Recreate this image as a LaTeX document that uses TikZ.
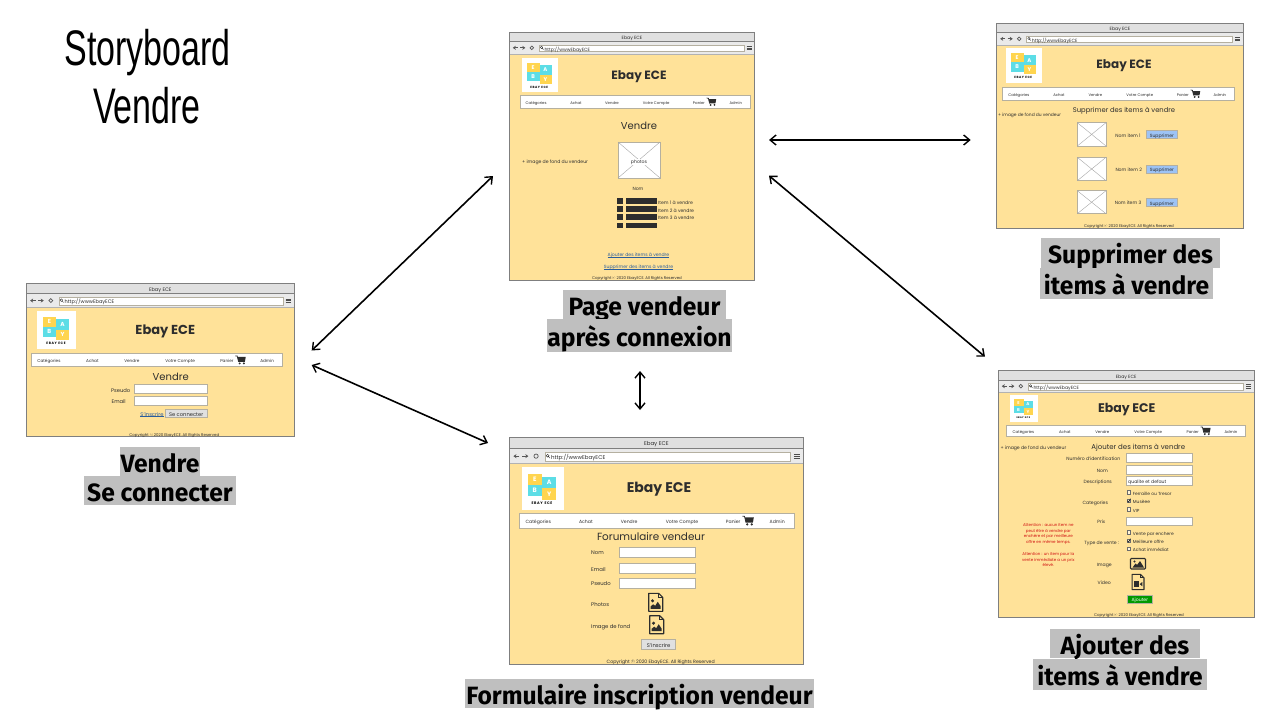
\documentclass[tikz,border=0pt]{standalone}
\usepackage{fontspec}
\usetikzlibrary{arrows.meta}
\setmainfont{Poppins}
\newfontfamily\capfont[FakeStretch=0.985]{Fira Sans}
\newfontfamily\storyfont[FakeStretch=0.68]{Liberation Sans}
\definecolor{pagefill}{HTML}{FFE299}
\definecolor{framegray}{HTML}{7F7F7F}
\definecolor{barfill}{HTML}{E0E0E0}
\definecolor{toolfill}{HTML}{EAEAEA}
\definecolor{wiredark}{HTML}{2D2D2D}
\definecolor{wireborder}{HTML}{B5B0A0}
\definecolor{capgray}{HTML}{BFBFBF}
\definecolor{linkblue}{HTML}{2A5D9C}
\definecolor{logoyellow}{HTML}{FFD54F}
\definecolor{logocyan}{HTML}{5CDDE6}
\definecolor{delblue}{HTML}{9DC3F5}
\definecolor{addgreen}{HTML}{009900}
\definecolor{warnred}{HTML}{D01010}
\newcommand{\txtsize}[1]{\fontsize{#1}{#1}\selectfont}
\newcommand{\ulink}[1]{\settowidth{\dimen0}{#1}\rlap{\rule[-0.7pt]{\dimen0}{0.3pt}}#1}
\tikzset{
  wiretext/.style={inner sep=0pt, anchor=mid, text=wiredark},
  linktext/.style={inner sep=0pt, anchor=mid, text=linkblue},
  field/.style={draw=wireborder, line width=0.7pt, fill=white},
  caption/.style={fill=capgray, inner sep=0pt, text=black, font=\capfont\bfseries\txtsize{25}, text height=21pt, text depth=0pt},
  storyarrow/.style={{Straight Barb[length=6pt,width=10pt,line width=1.4pt]}-{Straight Barb[length=6pt,width=10pt,line width=1.4pt]}, line width=1.6pt, black},
}
% browser window: name, x1, y1, x2, y2, scale
\newcommand{\browser}[6]{
  \pgfmathsetmacro{\barsize}{4.6*#6}
  \fill[pagefill] (#2,#3) rectangle (#4,#5);
  \fill[barfill] (#2,#3) rectangle (#4,#3+9.2*#6);
  \fill[toolfill] (#2,#3+9.2*#6) rectangle (#4,#3+21.7*#6);
  \draw[framegray, line width=0.5pt] (#2,#3+9.2*#6) -- (#4,#3+9.2*#6);
  \draw[framegray!60, line width=0.7pt] (#2,#3+21.7*#6) -- (#4,#3+21.7*#6);
  \draw[framegray, line width=0.9pt] (#2,#3) rectangle (#4,#5);
  \node[wiretext, font=\txtsize{\barsize}] (#1bar) at ({(#2+#4)/2},#3+4.6*#6) {Ebay ECE};
  % back, forward, reload
  \draw[wiredark!80, line width=0.9pt, -{Stealth[length=3pt,width=4pt]}] (#2+8.5*#6,#3+15.5*#6) -- (#2+3.5*#6,#3+15.5*#6);
  \draw[wiredark!80, line width=0.9pt, -{Stealth[length=3pt,width=4pt]}] (#2+11*#6,#3+15.5*#6) -- (#2+16*#6,#3+15.5*#6);
  \draw[wiredark!80, line width=0.7pt] (#2+22.5*#6,#3+15.5*#6) circle (1.8*#6);
  % address field
  \draw[field] (#2+30*#6,#3+12.7*#6) rectangle (#4-10.5*#6,#3+19.5*#6);
  \draw[wiredark, line width=0.4pt] (#2+32.2*#6,#3+15.1*#6) circle (1.2*#6) (#2+33*#6,#3+16*#6) -- (#2+34.2*#6,#3+17.2*#6);
  \node[wiretext, anchor=mid west, font=\txtsize{\barsize}] (#1url) at (#2+35*#6,#3+16.1*#6) {http://wwwEbayECE};
  % menu
  \draw[wiredark!85, line width=0.6pt] (#4-8*#6,#3+13.9*#6) -- (#4-3*#6,#3+13.9*#6) (#4-8*#6,#3+15.6*#6) -- (#4-3*#6,#3+15.6*#6) (#4-8*#6,#3+17.3*#6) -- (#4-3*#6,#3+17.3*#6);
}
% logo: name, x1, y1, x2, y2
\newcommand{\logo}[5]{
  \pgfmathsetmacro{\logow}{#4-#2}
  \pgfmathsetmacro{\logoh}{#5-#3}
  \pgfmathsetmacro{\logofs}{0.15*\logow}
  \pgfmathsetmacro{\logots}{0.085*\logow}
  \begin{scope}[shift={(#2,#3)}, x=\logow pt, y=-\logoh pt]
    \fill[white] (0,0) rectangle (1,1);
    \fill[logoyellow] (0.14,0.15) rectangle (0.49,0.42);
    \fill[logocyan] (0.49,0.22) rectangle (0.82,0.49);
    \fill[logocyan] (0.14,0.42) rectangle (0.49,0.68);
    \fill[logoyellow] (0.49,0.49) rectangle (0.82,0.76);
    \node[inner sep=0pt, text=white, font=\bfseries\txtsize{\logofs}] (#1E) at (0.31,0.285) {E};
    \node[inner sep=0pt, text=white, font=\bfseries\txtsize{\logofs}] (#1A) at (0.65,0.355) {A};
    \node[inner sep=0pt, text=white, font=\bfseries\txtsize{\logofs}] (#1B) at (0.31,0.55) {B};
    \node[inner sep=0pt, text=white, font=\bfseries\txtsize{\logofs}] (#1Y) at (0.65,0.625) {Y};
    \node[inner sep=0pt, text=black, font=\bfseries\txtsize{\logots}] (#1L) at (0.48,0.855) {E\,B\,A\,Y\; E\,C\,E};
  \end{scope}
}
% menu bar: name, x1, y1, x2, y2, font size
\newcommand{\navbar}[6]{
  \draw[field] (#2,#3) rectangle (#4,#5);
  \pgfmathsetmacro{\navw}{#4-#2}
  \pgfmathsetmacro{\navy}{(#3+#5)/2}
  \node[wiretext, font=\txtsize{#6}] (#1cat) at (#2+0.07*\navw,\navy) {Catégories};
  \node[wiretext, font=\txtsize{#6}] (#1ach) at (#2+0.243*\navw,\navy) {Achat};
  \node[wiretext, font=\txtsize{#6}] (#1ven) at (#2+0.4*\navw,\navy) {Vendre};
  \node[wiretext, font=\txtsize{#6}] (#1cpt) at (#2+0.592*\navw,\navy) {Votre Compte};
  \node[wiretext, font=\txtsize{#6}] (#1pan) at (#2+0.778*\navw,\navy) {Panier};
  \node[wiretext, font=\txtsize{#6}] (#1adm) at (#2+0.938*\navw,\navy) {Admin};
  \begin{scope}[shift={(#2+0.833*\navw,\navy)}, scale=\navw/230]
    \draw[wiredark, line width=0.7pt] (-5,-3.8) -- (-3.2,-3.6) -- (-2,1.6);
    \fill[wiredark] (-3,-2.8) -- (4.6,-2.8) -- (3.8,1.6) -- (-2,1.6) -- cycle;
    \fill[wiredark] (-0.9,3.1) circle (1) (2.9,3.1) circle (1);
  \end{scope}
}
% crossed picture box: x1, y1, x2, y2
\newcommand{\imgbox}[4]{
  \draw[draw=wireborder, line width=0.7pt, fill=white] (#1,#2) rectangle (#3,#4);
  \draw[gray!70, line width=0.4pt] (#1,#2) -- (#3,#4) (#1,#4) -- (#3,#2);
}
% button: name, x1, y1, x2, y2, fill, text colour, font size, text
\newcommand{\button}[9]{
  \draw[draw=wireborder, line width=0.7pt, fill=#6] (#2,#3) rectangle (#4,#5);
  \node[inner sep=0pt, anchor=mid, text=#7, font=\txtsize{#8}] (#1) at ({(#2+#4)/2},{(#3+#5)/2}) {#9};
}
% file icon: x, y, scale, 1 for a picture or 2 for a film
\newcommand{\fileicon}[4]{
  \begin{scope}[shift={(#1,#2)}, scale=#3]
    \draw[wiredark, line width=1.1pt, line join=round] (-7,-9) -- (3,-9) -- (7,-5) -- (7,9) -- (-7,9) -- cycle;
    \draw[wiredark, line width=0.8pt] (3,-9) -- (3,-5) -- (7,-5);
    \ifnum#4=1
      \fill[wiredark] (-3.2,-1.5) circle (1.7);
      \fill[wiredark] (-5,6.5) -- (-5,4) -- (-2.5,2) -- (-0.5,3.5) -- (2,-0.5) -- (5,4) -- (5,6.5) -- cycle;
    \else
      \fill[wiredark] (-5,-1) rectangle (1.5,6);
      \fill[wiredark] (2,2.5) -- (5,0) -- (5,5) -- cycle;
    \fi
  \end{scope}
}
% list row of the seller page: y
\newcommand{\listrow}[1]{
  \fill[wiredark] (617,#1-2.8) rectangle (623,#1+2.8);
  \fill[wiredark] (626,#1-2.8) rectangle (657,#1+2.8);
}
% tick box row: name, y, text
\newcommand{\optline}[3]{
  \draw[wiredark!70, line width=0.35pt, fill=pagefill!40] (1126.7,#2-1.9) rectangle (1130.5,#2+1.9);
  \node[wiretext, anchor=mid west, font=\txtsize{4.4}] (#1) at (1132.7,#2) {#3};
}
\begin{document}
\begin{tikzpicture}[x=1pt,y=-1pt]
\useasboundingbox (0,0) rectangle (1280,720);
% title
\node[inner sep=0pt, text=black, font=\storyfont\txtsize{50}] (storytitle) at (147.5,53) {Storyboard};
\node[inner sep=0pt, text=black, font=\storyfont\txtsize{50}] (storysub) at (147,106) {Vendre};
%
% login window
\browser{login}{26.3}{283.7}{294.3}{436}{1.09}
\logo{loginlogo}{37.3}{311}{76.3}{349}
\node[wiretext, font=\bfseries\txtsize{13}] (logintitle) at (165.3,331.3) {Ebay ECE};
\navbar{loginnav}{31.3}{353.3}{282.7}{366.7}{4.2}
\node[wiretext, font=\txtsize{10}] (loginhead) at (170.7,377.5) {Vendre};
\node[wiretext, font=\txtsize{5.2}] (loginpseudo) at (120.7,389.3) {Pseudo};
\node[wiretext, font=\txtsize{5.2}] (loginemail) at (118.7,400.7) {Email};
\draw[field] (134.3,384.7) rectangle (207,393.7);
\draw[field] (134.3,396.3) rectangle (207,405.3);
\node[linktext, font=\txtsize{5.2}] (loginlink) at (152,413.3) {\ulink{S'inscrire}};
\button{loginbtn}{165.3}{409}{207}{417.7}{barfill}{wiredark}{5.2}{Se connecter}
\node[wiretext, font=\txtsize{3.9}] (logincopy) at (174.3,433.3) {Copyright \textcopyright{} 2020 EbayECE. All Rights Reserved};
%
% seller page window
\browser{seller}{509.3}{32.3}{754.7}{280.3}{1}
\logo{sellerlogo}{522}{58}{558}{92}
\node[wiretext, font=\bfseries\txtsize{12}] (sellertitle) at (639,76.5) {Ebay ECE};
\navbar{sellernav}{520}{95.7}{750}{108}{3.8}
\node[wiretext, font=\txtsize{10}] (sellerhead) at (639,126.5) {Vendre};
\node[wiretext, anchor=mid west, font=\txtsize{4.6}] (sellerback) at (522,160.3) {+ image de fond du vendeur};
\imgbox{618}{142}{660}{178}
\node[fill=white, inner sep=1pt, anchor=mid, text=wiredark, font=\txtsize{4.6}] (sellerphoto) at (639,160.3) {photos};
\node[wiretext, font=\txtsize{4.6}] (sellernom) at (638,187.3) {Nom};
\listrow{200.7}
\listrow{209}
\listrow{217.2}
\listrow{225.6}
\node[wiretext, anchor=mid west, font=\txtsize{4.6}] (selleritema) at (658,201.7) {Item 1 à vendre};
\node[wiretext, anchor=mid west, font=\txtsize{4.6}] (selleritemb) at (658,209.3) {Item 2 à vendre};
\node[wiretext, anchor=mid west, font=\txtsize{4.6}] (selleritemc) at (658,217) {Item 3 à vendre};
\node[linktext, font=\txtsize{4.6}] (selleradd) at (638.5,253.5) {\ulink{Ajouter des items à vendre}};
\node[linktext, font=\txtsize{4.6}] (sellerdel) at (638.5,265.5) {\ulink{Supprimer des items à vendre}};
\node[wiretext, font=\txtsize{3.9}] (sellercopy) at (637,277) {Copyright \textcopyright{} 2020 EbayECE. All Rights Reserved};
%
% sign up window
\browser{signup}{509.3}{437.7}{803.3}{664.3}{1.19}
\logo{signuplogo}{521.7}{467.3}{564}{509.7}
\node[wiretext, font=\bfseries\txtsize{14}] (signuptitle) at (659,489.7) {Ebay ECE};
\navbar{signupnav}{519}{513.3}{794.3}{528}{4.6}
\node[wiretext, font=\txtsize{10.4}] (signuphead) at (651,537.8) {Forumulaire vendeur};
\node[wiretext, anchor=mid west, font=\txtsize{5.3}] (signupnom) at (591,551.7) {Nom};
\node[wiretext, anchor=mid west, font=\txtsize{5.3}] (signupemail) at (591,568.3) {Email};
\node[wiretext, anchor=mid west, font=\txtsize{5.3}] (signuppseudo) at (591,582.7) {Pseudo};
\node[wiretext, anchor=mid west, font=\txtsize{5.3}] (signupphotos) at (591,603.7) {Photos};
\node[wiretext, anchor=mid west, font=\txtsize{5.3}] (signupfond) at (591,625.7) {Image de fond};
\draw[field] (619,547) rectangle (695,557.3);
\draw[field] (619,563) rectangle (695,573);
\draw[field] (619,578) rectangle (695,588.3);
\fileicon{655.7}{602.3}{1}{1}
\fileicon{656.7}{624.7}{1}{1}
\button{signupbtn}{641.7}{639.7}{675.7}{649.3}{barfill}{wiredark}{5.3}{S'inscrire}
\node[wiretext, font=\txtsize{4.7}] (signupcopy) at (660.7,660.3) {Copyright \textcopyright{} 2020 EbayECE. All Rights Reserved};
%
% remove window
\browser{remove}{996.7}{23.3}{1243.3}{228.3}{1}
\logo{removelogo}{1006}{47.7}{1042}{82.7}
\node[wiretext, font=\bfseries\txtsize{12}] (removetitle) at (1124,66.1) {Ebay ECE};
\navbar{removenav}{1002.7}{87.7}{1234.3}{100}{3.8}
\node[wiretext, font=\txtsize{6.8}] (removehead) at (1124,109.5) {Supprimer des items à vendre};
\node[wiretext, anchor=mid west, font=\txtsize{4.4}] (removeback) at (998,114) {+ image de fond du vendeur};
\imgbox{1077.3}{122.7}{1106}{146}
\imgbox{1077.3}{157.3}{1106}{180.7}
\imgbox{1077.3}{190.7}{1106}{213.7}
\node[wiretext, font=\txtsize{4.6}] (removenama) at (1128,134.3) {Nom item 1};
\node[wiretext, font=\txtsize{4.6}] (removenamb) at (1128.7,169) {Nom item 2};
\node[wiretext, font=\txtsize{4.6}] (removenamc) at (1128,202) {Nom item 3};
\button{removebtna}{1146}{130.3}{1177.7}{138.3}{delblue}{wiredark}{4.6}{Supprimer}
\button{removebtnb}{1146}{165}{1177.7}{173}{delblue}{wiredark}{4.6}{Supprimer}
\button{removebtnc}{1146}{198.3}{1177.7}{206.3}{delblue}{wiredark}{4.6}{Supprimer}
\node[wiretext, font=\txtsize{3.9}] (removecopy) at (1129,224.3) {Copyright \textcopyright{} 2020 EbayECE. All Rights Reserved};
%
% add window
\browser{add}{998.3}{370.7}{1254}{617.7}{1}
\logo{addlogo}{1010}{395}{1037.7}{421.7}
\node[wiretext, font=\bfseries\txtsize{12.5}] (addtitle) at (1126.7,409.5) {Ebay ECE};
\navbar{addnav}{1006.7}{425}{1245.7}{436.7}{3.9}
\node[wiretext, font=\txtsize{7}] (addhead) at (1138.3,446.4) {Ajouter des items à vendre};
\node[wiretext, anchor=mid west, font=\txtsize{4.6}] (addback) at (1000.3,446.7) {+ image de fond du vendeur};
\node[wiretext, font=\txtsize{4.6}] (addident) at (1093.3,458) {Numéro d'identification};
\node[wiretext, font=\txtsize{4.6}] (addnom) at (1102.3,470) {Nom};
\node[wiretext, font=\txtsize{4.6}] (adddesc) at (1097.7,481) {Descriptions};
\node[wiretext, font=\txtsize{4.6}] (addcat) at (1095.3,501.3) {Categories};
\node[wiretext, font=\txtsize{4.6}] (addprix) at (1101.3,521) {Prix};
\node[wiretext, font=\txtsize{4.6}] (addtype) at (1101.7,541.3) {Type de vente :};
\node[wiretext, font=\txtsize{4.6}] (addimage) at (1104.3,563.7) {Image};
\node[wiretext, font=\txtsize{4.6}] (addvideo) at (1104.3,582) {Video};
\draw[field] (1126.3,453.7) rectangle (1192.3,462.3);
\draw[field] (1126.3,465.7) rectangle (1192.3,474.3);
\draw[field] (1126.3,476.7) rectangle (1192.3,485.7);
\node[wiretext, anchor=mid west, font=\txtsize{4.6}] (adddefault) at (1128,481.2) {qualite et defaut};
\draw[field] (1126.3,517) rectangle (1192.3,525.7);
\optline{addopta}{492.3}{Ferraille ou Tresor}
\optline{addoptb}{500.7}{Musèee}
\optline{addoptc}{509.3}{VIP}
\optline{addoptd}{532.3}{Vente par enchere}
\optline{addopte}{540.7}{Meilleure offre}
\optline{addoptf}{548.7}{Achat immédiat}
\draw[wiredark, line width=0.7pt] (1127.3,500.7) -- (1128.5,502) -- (1130.6,498.8);
\draw[wiredark, line width=0.7pt] (1127.3,540.7) -- (1128.5,542) -- (1130.6,538.8);
\node[inner sep=0pt, text=warnred, align=center, font=\fontsize{4}{5.95}\selectfont] (addwarn) at (1048.3,545) {Attention : aucun item ne\\peut être à vendre par\\enchère et par meilleure\\offre en même temps.\\[5.2pt]Attention : un item pour la\\vente immédiate a un prix\\élevé.};
% picture button
\draw[wiredark, line width=1.1pt, rounded corners=0.8pt] (1130.5,558.5) rectangle (1145.5,569);
\fill[wiredark] (1132.5,567.5) -- (1135.5,563.5) -- (1137,565) -- (1140,561) -- (1144,567.5) -- cycle;
\fill[wiredark] (1134.5,561.5) circle (1.2);
\fileicon{1138}{582}{0.85}{2}
\button{addbtn}{1127.3}{595}{1152.3}{603.3}{addgreen}{white}{4.6}{Ajouter}
\node[wiretext, font=\txtsize{3.9}] (addcopy) at (1139,614) {Copyright \textcopyright{} 2020 EbayECE. All Rights Reserved};
%
% captions
\node[caption, minimum width=80pt, minimum height=29pt] (caplogina) at (160,461.5) {Vendre};
\node[caption, minimum width=152pt, minimum height=29pt] (caploginb) at (160,490.5) {Se connecter};
\node[caption, minimum width=163pt, minimum height=29pt] (capsellera) at (644.5,304.5) {Page vendeur};
\node[caption, minimum width=184pt, minimum height=33pt] (capsellerb) at (639.5,335.5) {après connexion};
\node[caption, minimum width=349pt, minimum height=29pt] (capsignup) at (639.5,693.5) {Formulaire inscription vendeur};
\node[caption, minimum width=179pt, minimum height=30pt] (capremovea) at (1130.5,253) {Supprimer des};
\node[caption, minimum width=173pt, minimum height=31pt] (capremoveb) at (1126.5,283.5) {items à vendre};
\node[caption, minimum width=150pt, minimum height=29pt] (capadda) at (1125,643.5) {Ajouter des};
\node[caption, minimum width=174pt, minimum height=31pt] (capaddb) at (1120,674.5) {items à vendre};
%
% free ends of the arrows
\coordinate (loginup) at (311.7,350.5);
\coordinate (logindown) at (311.7,365);
\coordinate (sellerleft) at (493,176);
\coordinate (signupleft) at (488,443);
\coordinate (sellerdown) at (640,371);
\coordinate (signuptop) at (640,410);
\coordinate (sellerright) at (769,140);
\coordinate (removeleft) at (970.7,140);
\coordinate (sellerdiag) at (769,175.7);
\coordinate (addtop) at (985,356.7);
% arrows
\draw[storyarrow] (loginup) -- (sellerleft);
\draw[storyarrow] (logindown) -- (signupleft);
\draw[storyarrow, line width=2pt] (sellerdown) -- (signuptop);
\draw[storyarrow, line width=2pt] (sellerright) -- (removeleft);
\draw[storyarrow] (sellerdiag) -- (addtop);
\end{tikzpicture}
\end{document}
